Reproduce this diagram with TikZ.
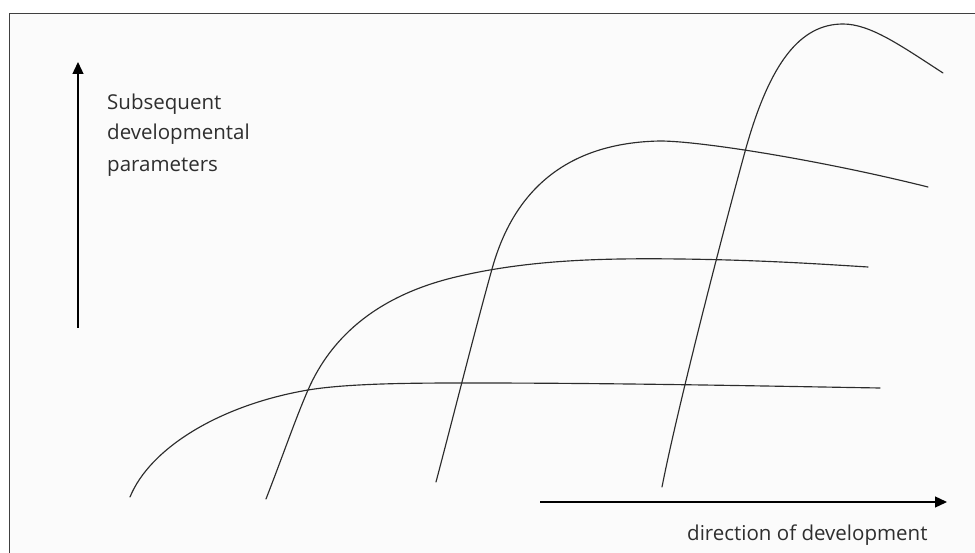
\documentclass[tikz,border=0pt]{standalone}
\usepackage{fontspec}
\setmainfont{Open Sans}
\usetikzlibrary{arrows.meta}
\definecolor{curvecol}{HTML}{2C2C2C}
\definecolor{textcol}{HTML}{2E2E2E}
\definecolor{framecol}{HTML}{404040}
\definecolor{bgcol}{HTML}{FBFBFB}
\tikzset{
  curve/.style={draw=curvecol, line width=1.15pt, line cap=round, line join=round},
  axisarrow/.style={draw=black, line width=1.3pt, -{Triangle[length=12pt,width=11pt]}},
  label/.style={text=textcol, inner sep=0pt, anchor=base west, font=\fontsize{20.5}{31}\selectfont},
}
\begin{document}
\begin{tikzpicture}[x=1pt,y=-1pt]
\useasboundingbox (0,0) rectangle (975,553);
\fill[bgcol] (9.5,13.5) rectangle (975,553);
\draw[framecol, line width=1.4pt] (9.5,553) -- (9.5,13.5) -- (975,13.5);
% curve 1
\draw[curve] (130,497) .. controls (150,448) and (220,405) .. (308,390)
  .. controls (350,383) and (420,383) .. (470,383)
  .. controls (620,383) and (760,386) .. (880,388);
% curve 2
\draw[curve] (266,499) .. controls (285,450) and (295,420) .. (308,390)
  .. controls (332,335) and (380,294) .. (460,276)
  .. controls (530,260) and (600,258) .. (680,259)
  .. controls (760,260) and (820,264) .. (868,267);
% curve 3
\draw[curve] (436,482) .. controls (455,410) and (475,330) .. (492,269)
  .. controls (507,215) and (545,143) .. (660,141)
  .. controls (700,141) and (820,160) .. (928,187);
% curve 4
\draw[curve] (662,487) .. controls (677,410) and (722,235) .. (746,148)
  .. controls (770,63) and (800,24) .. (843,24)
  .. controls (870,24) and (900,45) .. (943,73);
% axes
\coordinate (vstart) at (78,328);
\coordinate (vend) at (78,62);
\coordinate (hstart) at (540,502);
\coordinate (hend) at (947,502);
\draw[axisarrow] (vstart) -- (vend);
\draw[axisarrow] (hstart) -- (hend);
% labels
\node[label] (l1) at (107,109.5) {Subsequent};
\node[label] (l2) at (107,140) {developmental};
\node[label] (l3) at (107,172) {parameters};
\node[label] (l4) at (687,540) {direction of development};
\end{tikzpicture}
\end{document}
